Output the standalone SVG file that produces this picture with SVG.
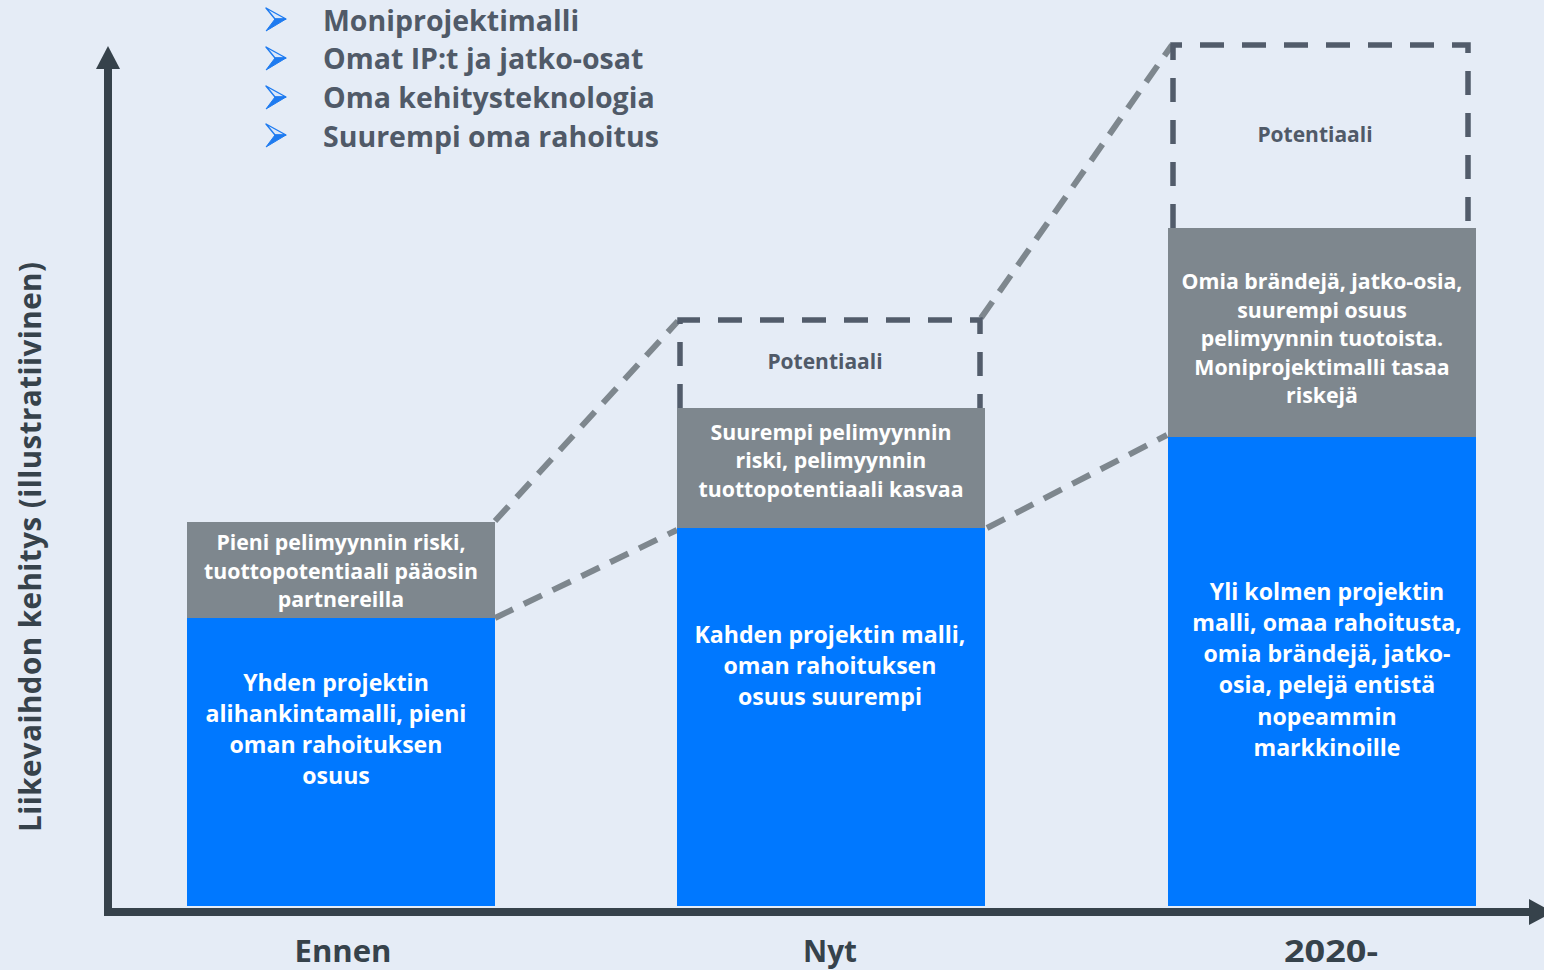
<svg xmlns="http://www.w3.org/2000/svg" width="1544" height="970" viewBox="0 0 1544 970">
  <defs>
    <style>
      text { font-family: "Open Sans", "Liberation Sans", sans-serif; font-weight: 700; }
      .bullet { font-size: 28.5px; fill: #505A68; }
      .axis-label { font-size: 29.5px; fill: #36424B; }
      .period { font-size: 30.5px; fill: #36424B; text-anchor: middle; }
      .gray-txt { font-size: 21.3px; fill: #FFFFFF; text-anchor: middle; }
      .blue-txt { font-size: 23.1px; fill: #FFFFFF; text-anchor: middle; }
      .pot-txt { font-size: 21px; fill: #505A68; text-anchor: middle; }
      .bar-blue { fill: #0078FF; }
      .bar-gray { fill: #7E878E; }
      .pot-box { fill: none; stroke: #525C6B; stroke-width: 5.5; stroke-dasharray: 24 18; }
      .link { fill: none; stroke: #7E878E; stroke-width: 6; stroke-dasharray: 20 12; }
      .axis { stroke: #36424B; stroke-width: 8; fill: none; }
      .axis-head { fill: #36424B; }
    </style>
    <g id="bullet-mark">
      <polygon points="0,-11 20,0 9,0" fill="#DCE8FA" stroke="#1E7BF0" stroke-width="1.4" stroke-linejoin="round"/>
      <polygon points="9,0 20,0 0,12" fill="#1E7BF0" stroke="#1E7BF0" stroke-width="1" stroke-linejoin="round"/>
    </g>
  </defs>

  <rect x="0" y="0" width="1544" height="970" fill="#E5ECF6"/>

  <!-- bullet list -->
  <g id="bullets">
    <use href="#bullet-mark" x="266" y="19"/>
    <use href="#bullet-mark" x="266" y="58"/>
    <use href="#bullet-mark" x="266" y="97"/>
    <use href="#bullet-mark" x="266" y="135"/>
    <text class="bullet" x="323" y="30.5">Moniprojektimalli</text>
    <text class="bullet" x="323" y="69">Omat IP:t ja jatko-osat</text>
    <text class="bullet" x="323" y="108">Oma kehitysteknologia</text>
    <text class="bullet" x="323" y="146.5">Suurempi oma rahoitus</text>
  </g>

  <!-- axes -->
  <g id="axes">
    <line class="axis" x1="108" y1="916" x2="108" y2="66"/>
    <polygon class="axis-head" points="108,46 120,69 96,69"/>
    <line class="axis" x1="104" y1="912" x2="1532" y2="912"/>
    <polygon class="axis-head" points="1553,912 1529,899 1529,925"/>
    <text class="axis-label" transform="translate(41,547) rotate(-90)" text-anchor="middle" textLength="570">Liikevaihdon kehitys (illustratiivinen)</text>
    <text class="period" x="343" y="962" textLength="97" lengthAdjust="spacingAndGlyphs">Ennen</text>
    <text class="period" x="830" y="962" textLength="54" lengthAdjust="spacingAndGlyphs">Nyt</text>
    <text class="period" x="1331" y="962" textLength="94" lengthAdjust="spacingAndGlyphs">2020-</text>
  </g>

  <!-- connectors between stages -->
  <g id="connectors">
    <line class="link" x1="495" y1="521" x2="678" y2="321"/>
    <line class="link" x1="495" y1="618" x2="677" y2="530"/>
    <line class="link" x1="981" y1="318" x2="1172" y2="45"/>
    <line class="link" x1="987" y1="528" x2="1167" y2="435"/>
  </g>

  <!-- stage: Ennen -->
  <g id="stage-ennen">
    <rect class="bar-gray" x="187" y="522" width="308" height="96"/>
    <rect class="bar-blue" x="187" y="618" width="308" height="288"/>
    <text class="gray-txt" x="341" y="550">Pieni pelimyynnin riski,</text>
    <text class="gray-txt" x="341" y="578.5">tuottopotentiaali pääosin</text>
    <text class="gray-txt" x="341" y="607">partnereilla</text>
    <text class="blue-txt" x="336" y="691">Yhden projektin</text>
    <text class="blue-txt" x="336" y="722">alihankintamalli, pieni</text>
    <text class="blue-txt" x="336" y="753">oman rahoituksen</text>
    <text class="blue-txt" x="336" y="784">osuus</text>
  </g>

  <!-- stage: Nyt -->
  <g id="stage-nyt">
    <path class="pot-box" d="M680,408 V320 H980 V408"/>
    <text class="pot-txt" x="825" y="369">Potentiaali</text>
    <rect class="bar-gray" x="677" y="408" width="308" height="120"/>
    <rect class="bar-blue" x="677" y="528" width="308" height="378"/>
    <text class="gray-txt" x="831" y="440">Suurempi pelimyynnin</text>
    <text class="gray-txt" x="831" y="468">riski, pelimyynnin</text>
    <text class="gray-txt" x="831" y="497">tuottopotentiaali kasvaa</text>
    <text class="blue-txt" x="830" y="643">Kahden projektin malli,</text>
    <text class="blue-txt" x="830" y="674">oman rahoituksen</text>
    <text class="blue-txt" x="830" y="705">osuus suurempi</text>
  </g>

  <!-- stage: 2020- -->
  <g id="stage-2020">
    <path class="pot-box" d="M1173,228 V45 H1468 V228"/>
    <text class="pot-txt" x="1315" y="142">Potentiaali</text>
    <rect class="bar-gray" x="1168" y="228" width="308" height="209"/>
    <rect class="bar-blue" x="1168" y="437" width="308" height="469"/>
    <text class="gray-txt" x="1322" y="289">Omia brändejä, jatko-osia,</text>
    <text class="gray-txt" x="1322" y="317.5">suurempi osuus</text>
    <text class="gray-txt" x="1322" y="346">pelimyynnin tuotoista.</text>
    <text class="gray-txt" x="1322" y="374.5">Moniprojektimalli tasaa</text>
    <text class="gray-txt" x="1322" y="403">riskejä</text>
    <text class="blue-txt" x="1327" y="600">Yli kolmen projektin</text>
    <text class="blue-txt" x="1327" y="631">malli, omaa rahoitusta,</text>
    <text class="blue-txt" x="1327" y="662">omia brändejä, jatko-</text>
    <text class="blue-txt" x="1327" y="693">osia, pelejä entistä</text>
    <text class="blue-txt" x="1327" y="725">nopeammin</text>
    <text class="blue-txt" x="1327" y="756">markkinoille</text>
  </g>
</svg>
